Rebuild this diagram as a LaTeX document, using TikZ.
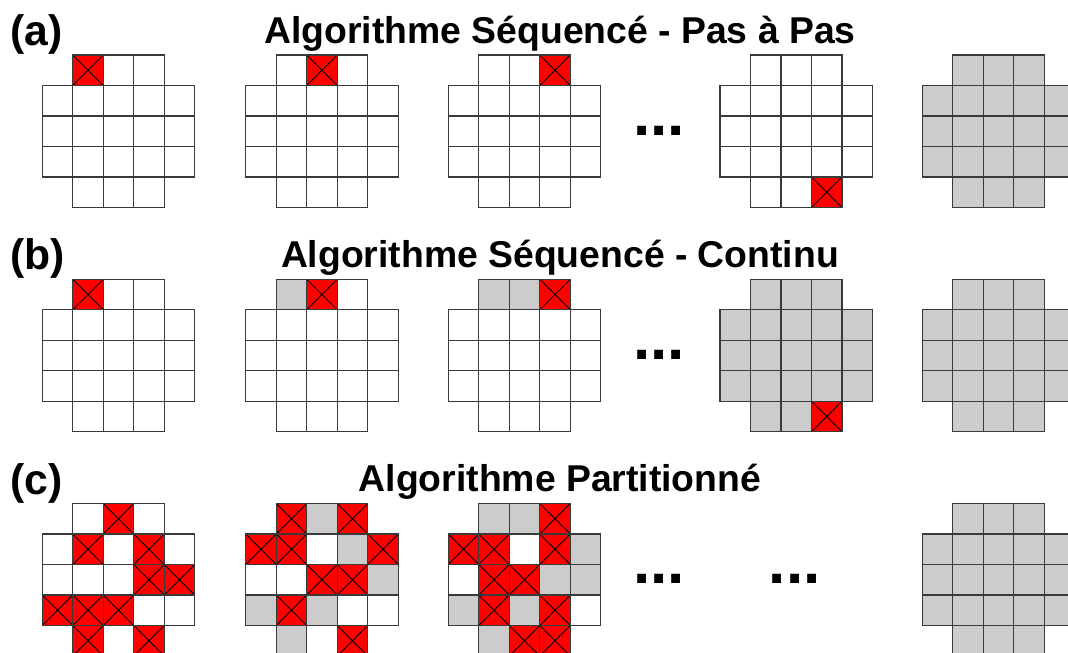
\documentclass[tikz,border=0pt]{standalone}
\usepackage{fontspec}
\setmainfont{Liberation Sans}
\definecolor{cellgray}{HTML}{CCCCCC}
\definecolor{cellline}{HTML}{3A3A3A}
\definecolor{cellred}{HTML}{FF0000}
\tikzset{
  cn/.style={},
  cw/.style={draw=cellline, line width=0.9, fill=white},
  cg/.style={draw=cellline, line width=0.9, fill=cellgray},
  cr/.style={draw=cellline, line width=0.9, fill=cellred,
    path picture={\draw[black, line width=0.6]
      (path picture bounding box.north west) -- (path picture bounding box.south east)
      (path picture bounding box.south west) -- (path picture bounding box.north east);}},
  title/.style={font=\fontsize{28}{30}\selectfont\bfseries, inner sep=0, anchor=base},
  lbl/.style={font=\fontsize{32}{34}\selectfont\bfseries, inner sep=0, anchor=base west},
  dots/.style={font=\fontsize{46.5}{50}\selectfont\bfseries, inner sep=0, anchor=base west}
}
\newcommand\drawgrid[3]{%
  \foreach \s [count=\i from 0] in {#3} {%
    \pgfmathtruncatemacro\gc{mod(\i,5)}%
    \pgfmathtruncatemacro\gr{floor(\i/5)}%
    \path[c\s] ({#1+\gc*30.5},{#2+\gr*30.5}) rectangle ++(30.5,30.5);
  }}
\begin{document}
\begin{tikzpicture}[x=0.75pt, y=-0.75pt]
\clip (0,0) rectangle (1068,653);
\fill[white] (0,0) rectangle (1068,653);
% labels and titles
\node[lbl] (la) at (10,45.5) {(a)};
\node[lbl] (lb) at (10,269.8) {(b)};
\node[lbl] (lc) at (10,494) {(c)};
\node[title] (ta) at (560,43.2) {Algorithme Séquencé - Pas à Pas};
\node[title] (tb) at (560,267.5) {Algorithme Séquencé - Continu};
\node[title] (tc) at (560,491.7) {Algorithme Partitionné};
% dots
\node[dots] (da) at (633,135) {...};
\node[dots] (db) at (633,359.3) {...};
\node[dots] (dc1) at (633,583.5) {...};
\node[dots] (dc2) at (768.6,583.5) {...};
% row a
\drawgrid{42.3}{55}{n,r,w,w,n, w,w,w,w,w, w,w,w,w,w, w,w,w,w,w, n,w,w,w,n}
\drawgrid{245.7}{55}{n,w,r,w,n, w,w,w,w,w, w,w,w,w,w, w,w,w,w,w, n,w,w,w,n}
\drawgrid{448.3}{55}{n,w,w,r,n, w,w,w,w,w, w,w,w,w,w, w,w,w,w,w, n,w,w,w,n}
\drawgrid{720}{55}{n,w,w,w,n, w,w,w,w,w, w,w,w,w,w, w,w,w,w,w, n,w,w,r,n}
\drawgrid{922.3}{55}{n,g,g,g,n, g,g,g,g,g, g,g,g,g,g, g,g,g,g,g, n,g,g,g,n}
% row b
\drawgrid{42.3}{279.3}{n,r,w,w,n, w,w,w,w,w, w,w,w,w,w, w,w,w,w,w, n,w,w,w,n}
\drawgrid{245.7}{279.3}{n,g,r,w,n, w,w,w,w,w, w,w,w,w,w, w,w,w,w,w, n,w,w,w,n}
\drawgrid{448.3}{279.3}{n,g,g,r,n, w,w,w,w,w, w,w,w,w,w, w,w,w,w,w, n,w,w,w,n}
\drawgrid{720}{279.3}{n,g,g,g,n, g,g,g,g,g, g,g,g,g,g, g,g,g,g,g, n,g,g,r,n}
\drawgrid{922.3}{279.3}{n,g,g,g,n, g,g,g,g,g, g,g,g,g,g, g,g,g,g,g, n,g,g,g,n}
% row c
\drawgrid{42.3}{503.5}{n,w,r,w,n, w,r,w,r,w, w,w,w,r,r, r,r,r,w,w, n,r,w,r,n}
\drawgrid{245.7}{503.5}{n,r,g,r,n, r,r,w,g,r, w,w,r,r,g, g,r,g,w,w, n,g,w,r,n}
\drawgrid{448.3}{503.5}{n,g,g,r,n, r,r,w,r,g, w,r,r,g,g, g,r,g,r,w, n,g,r,r,n}
\drawgrid{922.3}{503.5}{n,g,g,g,n, g,g,g,g,g, g,g,g,g,g, g,g,g,g,g, n,g,g,g,n}
\end{tikzpicture}
\end{document}
